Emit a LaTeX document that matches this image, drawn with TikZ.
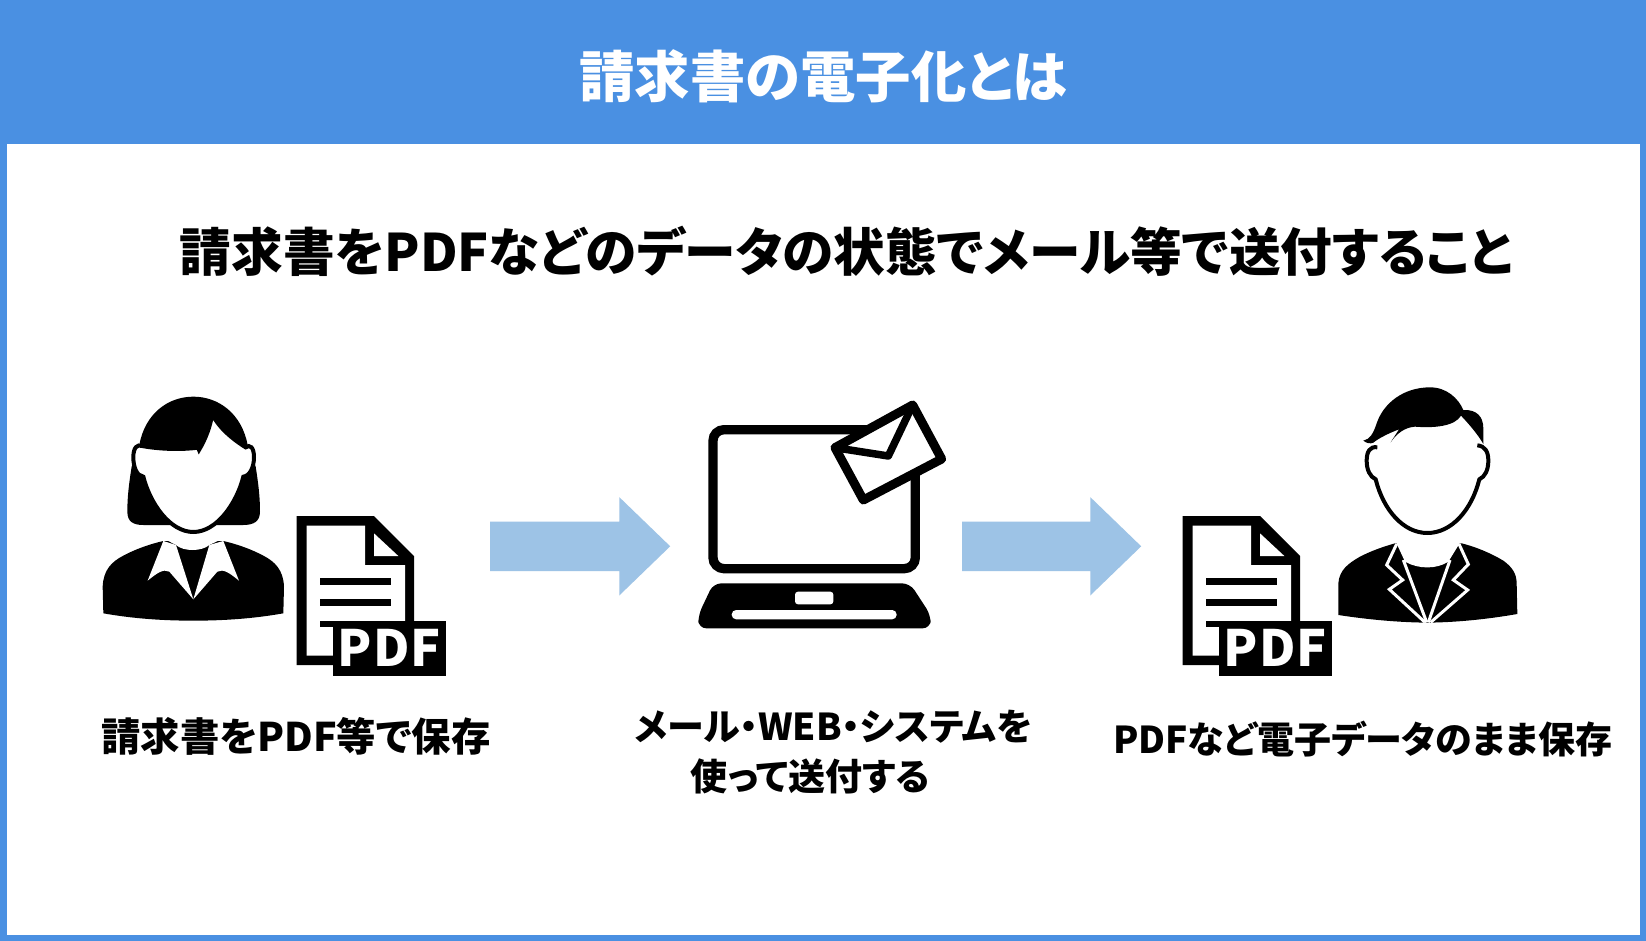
\documentclass[tikz,border=0pt]{standalone}
\usepackage{fontspec}
\setmainfont{Noto Sans CJK JP}[RawFeature={+palt}]
\usetikzlibrary{shapes.arrows}

\definecolor{frameblue}{HTML}{4A90E2}
\definecolor{arrowblue}{HTML}{9DC3E6}

\begin{document}
\begin{tikzpicture}
  [x=1pt,y=-1pt,
  title/.style={text=white, font=\bfseries\fontsize{55.4}{60}\selectfont},
  heading/.style={font=\bfseries\fontsize{51.7}{56}\selectfont},
  caption/.style={align=left, font=\bfseries\fontsize{37}{50}\selectfont},
  flow/.style={single arrow, fill=arrowblue, inner sep=0pt, anchor=tail,
  text height=49pt, text depth=0pt,
  minimum width=98pt, single arrow head extend=24.5pt,
  single arrow tip angle=88, shape border rotate=0},
  solid/.style={fill=black},
  blank/.style={fill=white},
  pdficon/.pic={
    \path[solid] (650,438) -- (882,438) -- (1002,558) -- (1002,885) -- (650,885) -- cycle;
    \path[blank] (680,467) -- (855,467) -- (855,585) -- (975,585) -- (975,857) -- (680,857) -- cycle;
    \path[blank] (882,490) -- (955,558) -- (882,558) -- cycle;
    \path[solid] (720,625) rectangle (934,645);
    \path[solid] (720,688) rectangle (934,708);
    \path[solid] (720,752) rectangle (760,770);
    \node [solid, minimum width=113pt, minimum height=55.5pt, inner sep=0pt,
      text=white, font=\bfseries\fontsize{50}{50}\selectfont]
      (plate) at (927.5,835) {P\kern1.5pt D\kern1.5pt F};
  }]

  \useasboundingbox (0,0) rectangle (1646,941);

  % frame and header
  \path[fill=frameblue] (0,0) rectangle (1646,941);
  \path[blank] (6.5,144.5) rectangle (1640,935);

  \node [title] (title) at (823.5,76) {請求書の電子化とは};
  \node [heading] (heading) at (846.5,251) {請求書をPDFなどのデータの状態でメール等で送付すること};

  % woman on the left
  \begin{scope}[shift={(80,370)},scale=1/3]
    \path[solid] (70,730) -- (68,650) .. controls (70,600) and (95,575) .. (130,557)
      .. controls (165,538) and (210,522) .. (250,513) -- (430,513)
      .. controls (470,522) and (515,538) .. (550,557)
      .. controls (585,575) and (610,600) .. (612,650) -- (610,730)
      .. controls (520,746) and (430,752) .. (340,752)
      .. controls (250,752) and (160,746) .. (70,730) -- cycle;
    \path[blank] (250,505) -- (430,505) -- (388,525)
      .. controls (365,545) and (310,545) .. (288,525) -- cycle;
    \path[blank] (250,513) -- (203,632) .. controls (230,610) and (250,595) .. (268,605)
      -- (340,688) -- (288,525) -- cycle;
    \path[blank] (430,513) -- (477,632) .. controls (450,610) and (430,595) .. (412,605)
      -- (340,688) -- (388,525) -- cycle;
    \path[solid] (178,225) .. controls (195,130) and (265,80) .. (340,80)
      .. controls (415,80) and (485,130) .. (503,225) -- (527,290)
      .. controls (535,340) and (540,380) .. (540,425)
      .. controls (540,455) and (520,465) .. (490,465) -- (190,465)
      .. controls (160,465) and (142,455) .. (142,425)
      .. controls (142,380) and (147,340) .. (155,290) -- cycle;
    \path[blank, draw=black, line width=4pt] (186,228)
      .. controls (230,236) and (290,240) .. (345,234) -- (350,224) -- (357,240)
      .. controls (378,205) and (390,170) .. (397,133)
      .. controls (420,180) and (470,215) .. (497,232)
      .. controls (510,222) and (522,232) .. (522,262)
      .. controls (522,290) and (510,318) .. (490,320)
      .. controls (470,400) and (410,486) .. (340,486)
      .. controls (270,486) and (210,400) .. (190,320)
      .. controls (170,318) and (160,290) .. (160,262)
      .. controls (160,232) and (172,222) .. (186,228) -- cycle;
  \end{scope}

  \pic (leftdoc) at (80,370) [scale=1/3] {pdficon};

  % laptop with envelope
  \begin{scope}[shift={(680,380)},scale=1/3]
    \draw[line width=9.3pt, rounded corners=11pt] (99,149) rectangle (706,566);
    \path[solid, rounded corners=8pt] (100,610) -- (690,610) -- (752,705) -- (752,745)
      -- (55,745) -- (55,705) -- cycle;
    \path[blank, rounded corners=3pt] (345,635) rectangle (460,673);
    \path[blank, rounded corners=4.5pt] (155,690) rectangle (650,718);
    \path[blank, draw=black, line width=9pt, line join=round]
      (465,203) -- (698,75) -- (785,237) -- (550,360) -- cycle;
    \draw[line width=7.5pt, line join=round] (465,203) -- (625,228) -- (698,75);
  \end{scope}

  \node [flow, minimum height=180pt] (sendarrow) at (490,546.3) {};
  \node [flow, minimum height=179pt] (savearrow) at (962,546.3) {};

  \pic (rightdoc) at (966,370) [scale=1/3] {pdficon};

  % man on the right
  \begin{scope}[shift={(1170,370)},scale=1/3]
    \path[solid] (505,735) -- (505,640) .. controls (508,600) and (535,580) .. (570,560)
      .. controls (605,542) and (640,530) .. (675,520) -- (875,520)
      .. controls (915,530) and (960,548) .. (1000,572)
      .. controls (1025,590) and (1040,610) .. (1040,640) -- (1042,732)
      .. controls (950,748) and (860,757) .. (772,758)
      .. controls (680,757) and (590,748) .. (505,735) -- cycle;
    \path[blank] (675,510) -- (875,510) -- (835,575)
      .. controls (800,598) and (745,598) .. (705,575) -- cycle;
    \draw[white, line width=3pt, miter limit=6] (680,522) -- (650,585) -- (698,630)
      -- (658,658) -- (765,757);
    \draw[white, line width=3pt, miter limit=6] (867,522) -- (895,583) -- (850,630)
      -- (893,660) -- (782,757);
    \draw[white, line width=3pt] (700,570) -- (770,757);
    \draw[white, line width=3pt] (840,570) -- (775,757);
    \draw[line width=4pt] (622,232) .. controls (600,228) and (590,245) .. (590,272)
      .. controls (590,300) and (600,320) .. (617,328)
      .. controls (640,420) and (700,489) .. (772,489)
      .. controls (845,489) and (905,420) .. (928,328)
      .. controls (945,320) and (955,300) .. (955,272)
      .. controls (955,245) and (945,228) .. (922,226);
    \path[solid] (580,212) .. controls (600,208) and (610,190) .. (620,160)
      .. controls (640,100) and (700,52) .. (780,52)
      .. controls (830,52) and (865,85) .. (880,120)
      .. controls (920,118) and (940,140) .. (940,175) -- (940,222)
      .. controls (925,195) and (895,160) .. (873,137)
      .. controls (855,168) and (795,175) .. (735,170)
      .. controls (705,172) and (680,190) .. (662,217) -- (687,178)
      .. controls (660,188) and (625,205) .. (610,218)
      .. controls (600,222) and (590,220) .. (580,212) -- cycle;
  \end{scope}

  \node [caption, font=\bfseries\fontsize{39.4}{51}\selectfont] (savetext) at (296,736) {請求書をPDF等で保存};
  \node [caption] (mailtext) at (833.5,752) {メール・WEB・システムを\\\hspace*{56pt}使って送付する};
  \node [caption] (keeptext) at (1363,739) {PDFなど電子データのまま保存};
\end{tikzpicture}
\end{document}
